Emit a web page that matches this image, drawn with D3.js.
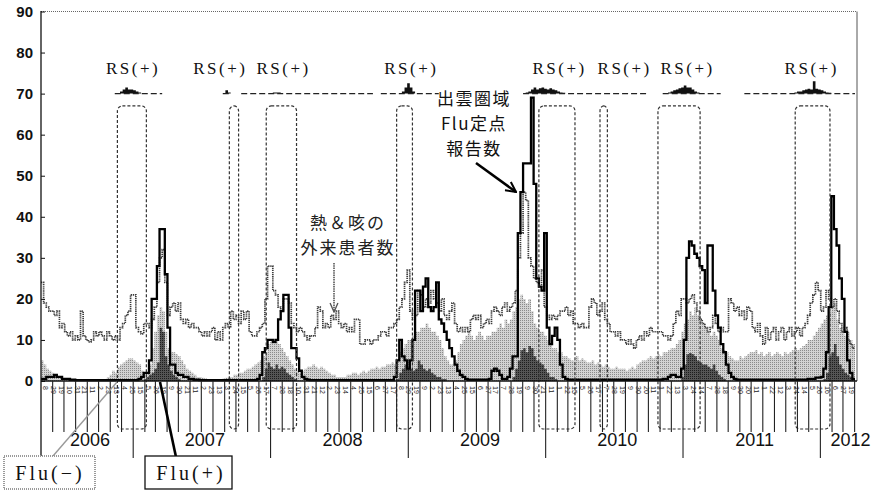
<!DOCTYPE html>
<html>
<head>
<meta charset="utf-8">
<script src="https://cdn.jsdelivr.net/npm/d3@7"></script>
<style>
  body { margin: 0; background: #fff; }
  svg { display: block; }
</style>
</head>
<body>
<svg id="chart" width="871" height="492"></svg>
<script>
// weekly values, first week starts 2006-05-01 (10 weeks per row)
const startDate = new Date(2006, 4, 1);

// 熱&咳の外来患者数
const feverCough = [
  24,19,18,17,17,16,17,13,14,12,
  11,12,10,11,10,17,11,10,9.5,10,
  12,11,12,11,10,12,11,10,11,10,
  13,14,16,17,21,21,13,12,11.5,14,
  14,13,15,18,24,30,32,24,16,18,
  19,17,19,15,14,15,13,14,13,13,
  12,11,12,11,12,13,10,12,10,13,
  14,13,17,15,16,14,17,15,17,12,
  11,11,12,13,14,20,28,28,22,21,
  18,17,20,20,19,14,13,12,13,12,
  11,10,11,11,13,18,17,13,14,13,
  16,15,17,14,13,14,12,13,12,15,
  15,9,9,10,10,9,10,10,11,12,
  12,11,13,13,14,15,18,20,24,27,
  17,15,16,22,21,18,20,19,22,20,
  19,17,20,16,15,17,19,14,12,13,
  12,13,12,15,16,15,16,13,14,15,
  14,17,18,17,16,18,19,17,18,19,
  22,30,36,46,44,30,28,25,24,23,
  27,18,16,15,16,15,16,17,17,18,
  16,17,14,14,13,14,13,13,18,20,
  19,16,17,19,15,14,12,12,11,12,
  10,10,9,10,9,8,10,11,10,12,
  11,13,12,12,12,12,11,11,10,11,
  14,17,16,20,20,19,20,21,19,17,
  15,14,13,12,13,16,14,12,13,12,
  12,20,19,17,18,16,17,15,18,17,
  13,12,14,11,9,13,10,12,13,10,
  12,13,10,12,13,11,12,13,11,13,
  14,16,19,21,24,22,17,18,22,20,
  18,20,17,14,12,13,10,9,8
];

// light stippled area
const grayArea = [
  5,4,3,2.5,2,1.5,1,1,0.5,0.5,
  0.5,0.3,0.3,0.2,0.2,0.2,0.2,0.2,0.2,0.2,
  0.2,0.2,0.2,0.2,0.5,1,1.5,2.5,2,3.5,
  4,4.5,5,5.5,5.5,5,4.5,4,2.5,2,
  2,4,8,12,16,18,17,12,8,7,
  7,6.5,6,5,4,3,2.5,2,1.5,1,
  1,0.8,0.6,0.5,0.5,0.4,0.4,0.5,0.5,0.6,
  0.8,1,1,1.5,1.5,2,2,2.5,3,3,
  3.5,4,4.5,5,6,7,9,9.5,9,10,
  9,8,7,6,5,4,3,2.5,2,2.5,
  3,3.5,3.5,4,3.5,3,3.5,3,2.5,2,
  1.5,1.5,1,1,1,1,1.5,1.5,2,2,
  1.5,2,2.5,2,2.5,3,3,3.5,3,3.5,
  3.5,4,4,4.5,4,5,7,8,9,10,
  10,11,12,12,13,13,14,13,12,12,
  11,10,8,6,5,4,4,5,7,9,
  10,11,12,11,10,11,12,11,10,11,
  11,12,12,13,14,13,15,14,15,17,
  18,20,21,20,19,20,17,14,13,12,
  12,11,10,9,8,8,7,7,6,6,
  5.5,5,5,6,5,5.5,5,4.5,4.5,5,
  4,4.5,4,3.5,4,3.5,3,3,3.5,3,
  3,3,2.5,3,3.5,3,4,4.5,5,5,
  5.5,6,5.5,6,6.5,6,7,7,7.5,8,
  8,9,10,12,14,15,17,16,18,16,
  15,14,13,12,11,12,11,10,8,7.5,
  7,6,5.5,5,5,6,5.5,6,6.5,7,
  7,7.5,6.5,7,6,6.5,7,6,6.5,7,
  6.5,6,7,6.5,7,7.5,8,7.5,8,8.5,
  9,10,10,11,12,13,14,15,16,17,
  18,19,15,13,12,11,12,10,9
];

// Flu(+) dark area
const fluPositive = [
  0,0,0,0,0,0,0,0,0,0,
  0,0,0,0,0,0,0,0,0,0,
  0,0,0,0,0,0,0,0,0,0,
  0,0,0,0,0,0,0,0,0,0.5,
  1,1.5,2,3,4.5,13,12,6,4,2.5,
  1.5,1,0.5,0,0,0,0,0,0,0,
  0,0,0,0,0,0,0,0,0,0,
  0,0,0,0,0,0,0,0,0,0,
  0,0,0,0,1,3,4.5,3.5,3,4,
  3,3.5,3,2,1.5,1,0.5,0,0,0,
  0,0,0,0,0,0,0,0,0,0,
  0,0,0,0,0,0,0,0,0,0,
  0,0,0,0,0,0,0,0,0,0,
  0,0,0,0,0,0.5,2,3,4,3,
  3,2.5,3,5,4,3,2.5,3,2,1.5,
  1,1,0.5,0.5,0,0,0,0,0,0,
  0,0,0,0,0,0,0,0,0,0,
  0,0,0,0,0,0,0,0,0,1,
  3,5,7.5,8,7,8.5,8,6,5,4.5,
  4,3,2,1,1,0.5,0,0,0,0,
  0,0,0,0,0,0,0,0,0,0,
  0,0,0,0,0,0,0,0,0,0,
  0,0,0,0,0,0,0,0,0,0,
  0,0,0,0,0,0,0,0,0,0,
  0,0,0,1,4,6.5,6.8,6.5,6,5,
  4.5,4,4,3.5,3,4,2.5,1.5,1,0.5,
  0,0,0,0,0,0,0,0,0,0,
  0,0,0,0,0,0,0,0,0,0,
  0,0,0,0,0,0,0,0,0,0,
  0,0,0,0,0,0,0,0.5,2,6,
  7,9,6,4,3,2,1.5,1,0.5
];

// 出雲圏域 Flu定点報告数
const fluReports = [
  0.5,0.5,1,1,1,1.5,1,1,0.5,0.5,
  0.5,0.3,0.3,0.2,0.2,0.2,0.2,0.2,0.2,0.2,
  0.2,0.2,0.2,0.2,0.2,0.2,0.2,0.2,0.2,0.2,
  0.2,0.2,0.2,0.2,0.2,0.2,0.2,0.5,1,2,
  2,5,20,20,28,37,37,26,13,4,
  4,2,1.5,1.5,1,1,0.5,0.5,0.3,0.3,
  0.2,0.2,0.2,0.2,0.2,0.2,0.2,0.2,0.2,0.2,
  0.2,0.2,0.2,0.2,0.2,0.2,0.2,0.2,0.2,0.2,
  0.2,0.2,0.5,1.5,7,8,10,10,9.5,10,
  15,17,21,21,13,8,8,5.5,2.5,1,
  0.5,0.3,0.2,0.2,0.2,0.2,0.2,0.2,0.2,0.2,
  0.2,0.2,0.2,0.2,0.2,0.2,0.2,0.2,0.2,0.2,
  0.2,0.2,0.2,0.2,0.2,0.2,0.2,0.2,0.2,0.2,
  0.2,0.2,0.2,0.2,1,5,10,6,5,3,
  5,10,22,22,17,23,25,18,17,18,
  24,15,14,12,10,8,6,4,2.5,1.5,
  1,0.5,0.3,0.3,0.3,0.3,0.3,0.3,0.3,0.3,
  0.5,2.5,3,2.5,1.5,0.5,0.5,1,3,6,
  6,36,46,53,53,53,69,48,25,23,
  22,36,13,9,11,13,10,4,1,0.5,
  0.3,0.3,0.3,0.3,0.3,0.3,0.3,0.3,0.3,0.3,
  0.3,0.3,0.3,0.3,0.3,0.3,0.3,0.3,0.3,0.3,
  0.3,0.3,0.3,0.3,0.3,0.3,0.3,0.3,0.3,0.3,
  0.3,0.3,0.3,0.3,0.3,0.3,0.5,0.5,1,1.5,
  1.5,1,1,3,10,30,34,33,31,30,
  28,27,19,33,33,22,16,13,9,7,
  4,2,1,0.5,0.3,0.3,0.3,0.3,0.3,0.3,
  0.3,0.3,0.3,0.3,0.3,0.3,0.3,0.3,0.3,0.3,
  0.3,0.3,0.3,0.3,0.3,0.3,0.3,0.3,0.3,0.3,
  0.3,0.5,0.5,0.5,0.8,0.8,1,3,7,18,
  45,37,33,25,20,12,5,2,0.5
];

// RS(+) strip drawn on the 70 line (null = not tested)
const _ = null;
const rsCount = [
  _,_,_,_,_,_,_,_,_,_,
  _,_,_,_,_,_,_,_,_,_,
  _,0,_,_,_,_,_,_,0,0,
  0.5,1,1.5,1,1,0.8,0.5,0.3,0,0,
  0,0,0,0,0,0,0,_,_,_,
  _,_,_,_,_,_,_,_,_,_,
  _,_,_,_,_,_,_,_,_,0,
  0.8,0.3,0,_,_,_,0,0,0,0,
  0,0,0,0,0,0,0,0,0.3,0.3,
  0.3,0,0,0,0,0,0,0,0,0,
  0,0,0,0,0,0,0,0,0,0,
  0,0,0,0,0,0,0,0,0,0,
  0,0,0,0,0,0,0,_,_,0,
  0,0,0,0,0,0,0,0.5,1.5,2.5,
  1.5,0.5,0,0,0,0,0,0,0,0,
  0,0,_,_,_,_,_,_,_,_,
  _,_,_,_,_,_,_,_,_,_,
  _,_,_,_,_,_,_,_,_,_,
  _,_,_,0,0.3,0.5,1,1.5,1,1.3,
  1.5,1.2,1,1.3,1,0.8,0.5,0.3,0.2,0,
  0,0,0,0,0,0,0,0,0,0,
  0,0,0,0,0,0,0,0,0,0,
  0,0,0,0,0,0,0,0,0,0,
  0,_,_,_,_,_,0,0,0.3,0.5,
  0.8,1,1.3,1.5,2,1.5,1.5,1,0.5,0.3,
  0,0,0,0,0,0,0,0,0,_,
  _,_,_,_,_,_,_,0,0,0,
  0,0,0,0,0,0,0,0,0,0,
  0,0,0,0,0,0,0.3,0.5,0.5,0.8,
  1,1.2,1,3,1.2,1,0.8,0.5,0.3,0.2,
  0,0,0,0,0,0,0,0,0
];

// RS(+) periods, in weeks from start
const rsBoxes = [[29,40],[71.5,75],[85.5,97],[135,141],[189,202.7],[212.2,215],[234.2,250.2],[286.3,299.5]];
const rsLabelWeeks = [34.4, 67.5, 91.5, 140, 196.3, 221, 244.9, 292];

const yTicks = [0,10,20,30,40,50,60,70,80,90];
const yearLabels = ["2006","2007","2008","2009","2010","2011","2012"];

// ------------------------------------------------------------
const svg = d3.select("#chart");
const nWeeks = fluReports.length;
const weekDate = i => new Date(startDate.getTime() + i * 7 * 86400000);
const endDate = weekDate(nWeeks);

const x = d3.scaleTime().domain([startDate, endDate]).range([41, 855]);
const y = d3.scaleLinear().domain([0, 90]).range([381, 11.5]);
const xw = i => x(weekDate(i));

function steps(arr) {
  let pts = arr.map((v, i) => ({ i: i, v: v }));
  pts.push({ i: arr.length, v: arr[arr.length - 1] });
  return pts;
}

// stipple patterns
const defs = svg.append("defs");
function stipple(id, bg, dot) {
  let p = defs.append("pattern").attr("id", id)
    .attr("width", 2).attr("height", 2).attr("patternUnits", "userSpaceOnUse");
  p.append("rect").attr("width", 2).attr("height", 2).attr("fill", bg);
  p.append("rect").attr("width", 1).attr("height", 1).attr("fill", dot);
}
stipple("lightDots", "#d2d2d2", "#8a8a8a");
stipple("darkDots", "#555", "#1e1e1e");

defs.append("marker").attr("id", "headBlack").attr("viewBox", "0 0 10 10")
  .attr("refX", 9).attr("refY", 5).attr("markerWidth", 5).attr("markerHeight", 5)
  .attr("orient", "auto-start-reverse")
  .append("path").attr("d", "M1,1 L9,5 L1,9").attr("fill", "none")
  .attr("stroke", "#000").attr("stroke-width", 1.6);
defs.append("marker").attr("id", "headGray").attr("viewBox", "0 0 10 10")
  .attr("refX", 9).attr("refY", 5).attr("markerWidth", 7).attr("markerHeight", 7)
  .attr("orient", "auto")
  .append("path").attr("d", "M1,1.5 L9,5 L1,8.5").attr("fill", "none")
  .attr("stroke", "#555").attr("stroke-width", 1.2);

// areas
const area = d3.area()
  .x(d => xw(d.i)).y0(y(0)).y1(d => y(d.v))
  .curve(d3.curveStepAfter);
svg.append("path").datum(steps(grayArea)).attr("d", area).attr("fill", "url(#lightDots)");
svg.append("path").datum(steps(fluPositive)).attr("d", area).attr("fill", "url(#darkDots)");

// lines
const line = d3.line()
  .x(d => xw(d.i)).y(d => y(d.v))
  .curve(d3.curveStepAfter);
svg.append("path").datum(steps(feverCough)).attr("d", line)
  .attr("fill", "none").attr("stroke", "#3c3c3c").attr("stroke-width", 1.7)
  .attr("stroke-dasharray", "1.3,0.8");
svg.append("path").datum(steps(fluReports)).attr("d", line)
  .attr("fill", "none").attr("stroke", "#000").attr("stroke-width", 2.3);

// RS strip at the 70 level
const rsPts = steps(rsCount);
svg.append("path").datum(rsPts)
  .attr("d", d3.area().defined(d => d.v !== null)
    .x(d => xw(d.i)).y0(y(70)).y1(d => y(70 + d.v)).curve(d3.curveStepAfter))
  .attr("fill", "#111");
svg.append("path").datum(rsPts)
  .attr("d", d3.line().defined(d => d.v !== null)
    .x(d => xw(d.i)).y(y(70)).curve(d3.curveStepAfter))
  .attr("fill", "none").attr("stroke", "#222").attr("stroke-width", 1.2)
  .attr("stroke-dasharray", "6,3");

svg.selectAll(".rslabel").data(rsLabelWeeks).join("text")
  .attr("x", d => xw(d) + 1.5).attr("y", 74)
  .attr("text-anchor", "middle")
  .attr("font-family", "Liberation Serif, serif").attr("font-size", 17)
  .attr("letter-spacing", 2.5).attr("fill", "#111")
  .text("RS(+)");

// RS period boxes
svg.selectAll(".rsbox").data(rsBoxes).join("rect")
  .attr("x", d => xw(d[0])).attr("y", y(67))
  .attr("width", d => xw(d[1]) - xw(d[0]))
  .attr("height", d => 429 - y(67))
  .attr("rx", 5)
  .attr("fill", "none").attr("stroke", "#333").attr("stroke-width", 1.2)
  .attr("stroke-dasharray", "3,2");

// plot frame
svg.append("line").attr("x1", 41).attr("x2", 857).attr("y1", 11.5).attr("y2", 11.5)
  .attr("stroke", "#666").attr("stroke-dasharray", "1,1");
svg.append("line").attr("x1", 857).attr("x2", 857).attr("y1", 11.5).attr("y2", 381)
  .attr("stroke", "#555");

// y axis
const yAxis = svg.append("g").attr("transform", "translate(41,0)")
  .call(d3.axisLeft(y).tickValues(yTicks).tickSize(-4).tickPadding(8));
yAxis.select(".domain").remove();
yAxis.selectAll("text").attr("font-family", "Liberation Sans, Arial, sans-serif")
  .attr("font-size", 15).attr("font-weight", "bold").attr("fill", "#111");
yAxis.selectAll("line").attr("stroke", "#111");
svg.append("line").attr("x1", 41).attr("x2", 41).attr("y1", 11).attr("y2", 462)
  .attr("stroke", "#111").attr("stroke-width", 1.3);
svg.append("line").attr("x1", 41).attr("x2", 857).attr("y1", y(0)).attr("y2", y(0))
  .attr("stroke", "#111").attr("stroke-width", 1.5);

// month ticks and year ticks below the axis
const months = d3.timeMonth.range(d3.timeMonth.offset(startDate, 1), endDate);
svg.selectAll(".mtick").data(months).join("line")
  .attr("x1", d => x(d)).attr("x2", d => x(d))
  .attr("y1", y(0)).attr("y2", d => d.getMonth() === 0 ? 458 : 432)
  .attr("stroke", "#222").attr("stroke-width", 1.1);

// tiny week dates
const labelWeeks = d3.range(1, nWeeks, 3);
svg.selectAll(".wlabel").data(labelWeeks).join("text")
  .attr("transform", i => `translate(${xw(i + 0.5) - 2},386) rotate(90)`)
  .attr("font-family", "Liberation Sans, sans-serif").attr("font-size", 7)
  .attr("fill", "#222")
  .text(i => weekDate(i).getDate());

// year labels, centred on the visible part of each year
svg.selectAll(".year").data(yearLabels).join("text")
  .attr("x", (d, k) => {
    const a = Math.max(x(new Date(+d, 0, 1)), 41);
    const b = Math.min(x(new Date(+d + 1, 0, 1)), 855);
    return k === yearLabels.length - 1 ? a + 10 : (a + b) / 2 + 3;
  })
  .attr("y", 446)
  .attr("text-anchor", (d, k) => k === yearLabels.length - 1 ? "start" : "middle")
  .attr("font-family", "Liberation Sans, Arial, sans-serif").attr("font-size", 18)
  .attr("fill", "#111")
  .text(d => d);

// annotations
const jp = "Noto Sans CJK JP, sans-serif";
["出雲圏域", "Flu定点", "報告数"].forEach((t, k) =>
  svg.append("text").attr("x", 474).attr("y", 105 + k * 25)
    .attr("text-anchor", "middle").attr("font-family", jp).attr("font-size", 17)
    .attr("letter-spacing", 1.5).attr("fill", "#111").text(t));
svg.append("line").attr("x1", 476).attr("y1", 163).attr("x2", 516).attr("y2", 192)
  .attr("stroke", "#000").attr("stroke-width", 2.5).attr("marker-end", "url(#headBlack)");

["熱＆咳の", "外来患者数"].forEach((t, k) =>
  svg.append("text").attr("x", 348).attr("y", 229 + k * 25)
    .attr("text-anchor", "middle").attr("font-family", jp).attr("font-size", 17)
    .attr("letter-spacing", 2).attr("fill", "#222").text(t));
svg.append("line").attr("x1", 334).attr("y1", 263).attr("x2", 334).attr("y2", 312)
  .attr("stroke", "#555").attr("stroke-width", 1.6).attr("stroke-dasharray", "1.5,0.8")
  .attr("marker-end", "url(#headGray)");

// Flu boxes with leader lines
svg.append("line").attr("x1", 53).attr("y1", 456).attr("x2", 117).attr("y2", 382)
  .attr("stroke", "#999").attr("stroke-width", 1.4);
svg.append("line").attr("x1", 176).attr("y1", 457).attr("x2", 160).attr("y2", 382)
  .attr("stroke", "#000").attr("stroke-width", 2.6);
svg.append("rect").attr("x", 4).attr("y", 456).attr("width", 91).attr("height", 33)
  .attr("fill", "#fff").attr("stroke", "#9a9a9a").attr("stroke-width", 2)
  .attr("stroke-dasharray", "1,1");
svg.append("rect").attr("x", 145).attr("y", 456).attr("width", 87).attr("height", 33)
  .attr("fill", "#fff").attr("stroke", "#111").attr("stroke-width", 1.3);
svg.append("text").attr("x", 50).attr("y", 480).attr("text-anchor", "middle")
  .attr("font-family", "Liberation Serif, serif").attr("font-size", 20)
  .attr("letter-spacing", 3).attr("fill", "#111").text("Flu(−)");
svg.append("text").attr("x", 191).attr("y", 480).attr("text-anchor", "middle")
  .attr("font-family", "Liberation Serif, serif").attr("font-size", 20)
  .attr("letter-spacing", 3).attr("fill", "#111").text("Flu(+)");
</script>
</body>
</html>
